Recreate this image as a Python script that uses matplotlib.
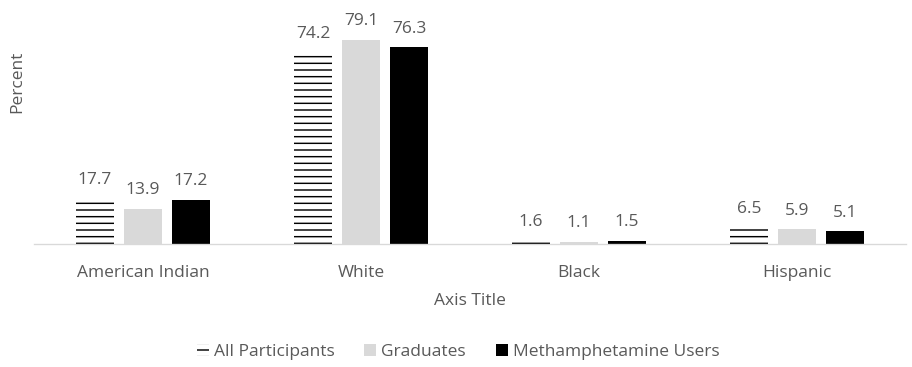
import matplotlib
matplotlib.use("Agg")
import matplotlib.pyplot as plt
import numpy as np

categories = ["American Indian", "White", "Black", "Hispanic"]
series_names = ["All Participants", "Graduates", "Methamphetamine Users"]
all_participants = [17.7, 74.2, 1.6, 6.5]
graduates = [13.9, 79.1, 1.1, 5.9]
meth_users = [17.2, 76.3, 1.5, 5.1]

TEXT = "#595959"
DPI = 80
FS = 15.6

plt.rcParams["font.family"] = ["Open Sans", "DejaVu Sans"]
plt.rcParams["hatch.linewidth"] = 1.3

fig = plt.figure(figsize=(912 / DPI, 367 / DPI), dpi=DPI)
ax = fig.add_axes([34 / 912, 0.3338, 872 / 912, 0.968 - 0.3338])

x = np.arange(len(categories))
width = 0.177
step = 0.22

styles = [
    dict(color="white", edgecolor="black", hatch="--", linewidth=0),
    dict(color="#D9D9D9", linewidth=0),
    dict(color="black", linewidth=0),
]

for i, (vals, name) in enumerate(zip([all_participants, graduates, meth_users], series_names)):
    bars = ax.bar(x + (i - 1) * step, vals, width, label=name, **styles[i])
    for b, v in zip(bars, vals):
        ax.annotate(f"{v:.1f}", (b.get_x() + b.get_width() / 2, v),
                    xytext=(0, 13.2), textcoords="offset points",
                    ha="center", va="baseline", color=TEXT, fontsize=FS)

ax.set_xlim(-0.5, len(categories) - 0.5)
ax.set_ylim(0, 90)
ax.set_xticks(x)
ax.set_xticklabels(categories, color=TEXT, fontsize=FS)
ax.tick_params(axis="x", length=0, pad=18.5)
ax.set_yticks([])
for s in ["top", "right", "left"]:
    ax.spines[s].set_visible(False)
ax.spines["bottom"].set_color("#D9D9D9")
ax.spines["bottom"].set_linewidth(1.2)

fig.text(470 / 912, 1 - 301 / 367, "Axis Title", ha="center", va="center",
         color=TEXT, fontsize=FS)
fig.text(17 / 912, 1 - 82 / 367, "Percent", ha="center", va="center",
         rotation=90, color=TEXT, fontsize=FS)

fig.legend(loc="center", bbox_to_anchor=(458 / 912, 1 - 352 / 367), ncol=3,
           frameon=False, fontsize=FS, labelcolor=TEXT,
           handlelength=0.7, handleheight=0.7, handletextpad=0.3,
           columnspacing=1.7)

fig.savefig("out.png", dpi=DPI)
